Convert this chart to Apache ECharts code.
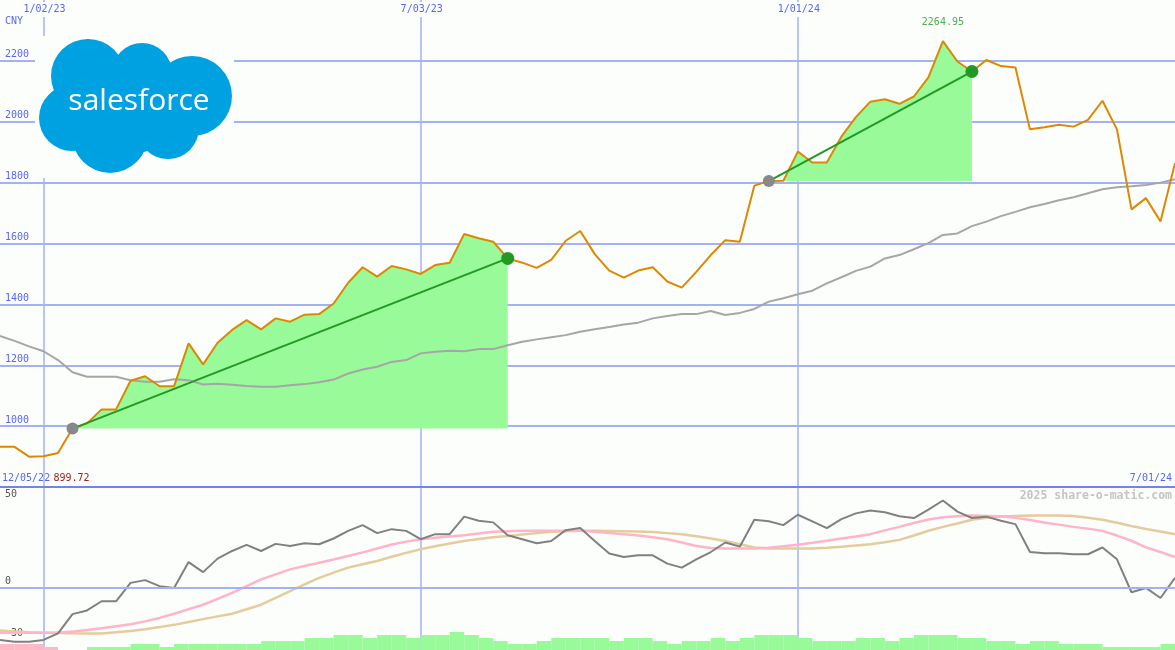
<!DOCTYPE html>
<html>
<head>
<meta charset="utf-8">
<title>Salesforce share chart</title>
<script src="https://cdn.jsdelivr.net/npm/echarts@6/dist/echarts.min.js"></script>
<style>
  html, body { margin: 0; padding: 0; background: #fcfefc; }
  #chart { width: 1175px; height: 650px; }
</style>
</head>
<body>
<div id="chart"></div>
<script>
// weekly closes (CNY), first week 12/12/22
const price = [
  932, 932, 899.72, 901, 912, 992, 1009, 1055, 1055, 1149,
  1164, 1131, 1131, 1272, 1203, 1274, 1316, 1348, 1318, 1354,
  1343, 1366, 1368, 1403, 1471, 1522, 1491, 1526, 1515, 1500,
  1529, 1537, 1631, 1617, 1606, 1551, 1537, 1520, 1546, 1609,
  1641, 1565, 1511, 1488, 1511, 1522, 1475, 1455, 1507, 1562,
  1611, 1606, 1790, 1805, 1806, 1902, 1866, 1866, 1951, 2015,
  2066, 2074, 2059, 2083, 2146, 2264.95, 2198, 2165, 2203, 2183,
  2178, 1975, 1982, 1990, 1984, 2006, 2069, 1975, 1712, 1749,
  1672, 1864
];

// long moving average (grey)
const movingAvg = [
  1296, 1280, 1262, 1246, 1217, 1177, 1162, 1162, 1162, 1151,
  1146, 1146, 1154, 1151, 1137, 1139, 1136, 1132, 1129, 1129,
  1134, 1138, 1144, 1153, 1173, 1186, 1195, 1211, 1217, 1239,
  1244, 1248, 1246, 1253, 1253, 1266, 1277, 1285, 1292, 1299,
  1310, 1318, 1326, 1334, 1340, 1354, 1362, 1368, 1368, 1378,
  1365, 1372, 1385, 1409, 1420, 1433, 1445, 1469, 1489, 1510,
  1524, 1551, 1562, 1581, 1601, 1628, 1633, 1657, 1672, 1690,
  1704, 1719, 1730, 1742, 1752, 1765, 1778, 1785, 1788, 1792,
  1800, 1811
];

// lower panel: oscillator and its two smoothings
const oscillator = [
  -30.2, -31.2, -31.2, -30.2, -26.4, -15.3, -13.2, -7.9, -7.9, 2.7,
  4.3, 0.8, -0.2, 14.7, 8.9, 16.7, 21.1, 24.6, 21.1, 25.2,
  24.0, 25.6, 25.0, 28.3, 32.7, 36.0, 31.4, 33.7, 32.7, 27.9,
  30.8, 30.8, 40.9, 38.5, 37.6, 30.2, 27.9, 25.6, 26.9, 33.1,
  34.3, 26.9, 19.6, 17.6, 18.6, 18.6, 13.8, 11.5, 16.3, 20.5,
  26.0, 23.6, 39.1, 38.2, 36.0, 42.0, 38.2, 34.3, 39.5, 42.8,
  44.4, 43.4, 41.1, 40.1, 44.9, 50.2, 43.8, 40.1, 40.9, 38.5,
  36.6, 20.5, 19.8, 19.8, 19.2, 19.2, 23.1, 16.3, -2.7, -0.2,
  -6.0, 5.6
];

const signalFast = [
  -26, -26, -26, -26, -26, -25.4, -24.5, -23.5, -22.3, -21.1,
  -19.5, -17.5, -15.1, -12.5, -9.9, -6.5, -3.1, 0.8, 4.7, 7.6,
  10.5, 12.4, 14.3, 16.2, 18.2, 20.3, 22.5, 24.8, 26.5, 27.9,
  28.7, 29.5, 30.2, 31.2, 32.2, 32.5, 32.7, 32.7, 32.7, 32.7,
  32.7, 32.2, 31.5, 30.8, 30.0, 29.0, 27.9, 26.0, 24.0, 22.8,
  22.5, 22.5, 22.5, 23.0, 23.9, 24.7, 25.8, 27.0, 28.3, 29.5,
  30.8, 33.0, 35.0, 37.2, 39.3, 40.6, 41.2, 41.5, 41.3, 41.1,
  40.2, 39.0, 37.5, 36.3, 35.0, 34.0, 32.7, 30.0, 27.0, 23.2,
  20.5, 17.6
];

const signalSlow = [
  -24.8, -25.3, -25.8, -26, -26.2, -26.4, -26.5, -26.5, -25.8, -25,
  -24, -22.8, -21.5, -19.8, -18.2, -16.6, -15.1, -12.5, -9.9, -6,
  -2.1, 1.8, 5.6, 8.6, 11.5, 13.4, 15.3, 17.8, 20.0, 22.1,
  23.8, 25.4, 26.9, 28.0, 29.0, 29.8, 30.6, 31.4, 32.2, 32.5,
  32.7, 32.7, 32.6, 32.5, 32.4, 32.0, 31.4, 30.8, 29.6, 28.3,
  26.9, 25.0, 23.1, 22.5, 22.5, 22.5, 22.6, 23.0, 23.6, 24.3,
  25.0, 26.2, 27.5, 30.0, 32.8, 35.0, 37.0, 39.1, 40.2, 41.0,
  41.3, 41.5, 41.5, 41.5, 41.3, 40.3, 39.1, 37.4, 35.5, 33.8,
  32.3, 30.8
];

// bottom histogram, one bar per week interval (negative = pink)
const histogram = [
  -2, -2, -2, -1, 0, 0, 1, 1, 1, 2,
  2, 1, 2, 2, 2, 2, 2, 2, 3, 3,
  3, 4, 4, 5, 5, 4, 5, 5, 4, 5,
  5, 6, 5, 4, 3, 2, 2, 3, 4, 4,
  4, 4, 3, 4, 4, 3, 2, 3, 3, 4,
  3, 4, 5, 5, 5, 4, 3, 3, 3, 4,
  4, 3, 4, 5, 5, 5, 4, 4, 3, 3,
  2, 3, 3, 2, 2, 2, 1, 1, 1, 1,
  2
];

// trend segments (start/end week index)
const trendFrom = [5, 53];
const trendTo = [35, 67];

const dateTicks = ['1/02/23', '7/03/23', '1/01/24'];
const priceTicks = [1000, 1200, 1400, 1600, 1800, 2000, 2200];
const oscTicks = [50, 0, -30];
const startLabel = '12/05/22';
const currency = 'CNY';
const watermark = '2025 share-o-matic.com';

// weekly categories
const weeks = [];
for (let i = 0; i < price.length; i++) {
  const d = new Date(2022, 11, 12 + i * 7);
  const dd = String(d.getDate()).padStart(2, '0');
  const yy = String(d.getFullYear() % 100).padStart(2, '0');
  weeks.push((d.getMonth() + 1) + '/' + dd + '/' + yy);
}
const gaps = histogram.map((v, i) => weeks[i]);

const BG = '#fcfefc';
const GRID = '#a4b2f4';
const BLUE = '#5a66f0';
const MONO = 'DejaVu Sans Mono';
const CLOUD = '#00a1e0';

// green fill under price between trend start and end
const fillBase = price.map(() => '-');
const fillTop = price.map(() => '-');
trendFrom.forEach((from, k) => {
  for (let i = from; i <= trendTo[k]; i++) {
    fillBase[i] = price[from];
    fillTop[i] = price[i] - price[from];
  }
});

const trendSeries = trendFrom.map((from, k) => {
  const to = trendTo[k];
  const data = price.map((v, i) => {
    if (i === from) return { value: v, symbol: 'circle', symbolSize: 12, itemStyle: { color: '#888888' } };
    if (i === to) return { value: v, symbol: 'circle', symbolSize: 13, itemStyle: { color: '#229922' } };
    return '-';
  });
  return {
    type: 'line',
    xAxisIndex: 0,
    yAxisIndex: 0,
    data: data,
    connectNulls: true,
    showSymbol: true,
    symbol: 'none',
    lineStyle: { color: '#229922', width: 2 },
    z: 6,
    silent: true
  };
});

const maxIdx = price.indexOf(Math.max(...price));
const minVal = Math.min(...price);

const isTick = (index, value) => dateTicks.includes(value);

// cloud lobes of the logo
const lobes = [
  [88, 76, 37], [142, 73, 30], [192, 96, 40],
  [72, 118, 33], [110, 135, 38], [168, 128, 31], [135, 108, 45]
];

const chart = echarts.init(document.getElementById('chart'));

chart.setOption({
  animation: false,
  backgroundColor: BG,
  grid: [
    { left: 0, right: 0, top: 0, height: 487 },
    { left: 0, right: 0, top: 487, height: 163 },
    { left: 0, right: 0, bottom: 0, height: 30 }
  ],
  xAxis: [
    {
      type: 'category',
      gridIndex: 0,
      data: weeks,
      boundaryGap: false,
      position: 'top',
      axisLine: { show: false },
      axisTick: { show: false },
      axisLabel: {
        inside: true,
        interval: isTick,
        margin: 2,
        color: BLUE,
        fontFamily: MONO,
        fontSize: 10,
        backgroundColor: BG,
        padding: [2, 2, 3, 4]
      },
      splitLine: { show: true, interval: isTick, lineStyle: { color: GRID, width: 1.5 } }
    },
    {
      type: 'category',
      gridIndex: 1,
      data: weeks,
      boundaryGap: false,
      axisLine: { show: false },
      axisTick: { show: false },
      axisLabel: { show: false },
      splitLine: { show: true, interval: isTick, lineStyle: { color: GRID, width: 1.5 } }
    },
    {
      type: 'category',
      gridIndex: 2,
      data: gaps,
      boundaryGap: true,
      show: false
    }
  ],
  yAxis: [
    {
      type: 'value',
      gridIndex: 0,
      min: 800,
      max: 2400,
      interval: 200,
      axisLine: { show: false },
      axisTick: { show: false },
      axisLabel: {
        inside: true,
        margin: 5,
        verticalAlign: 'bottom',
        padding: [0, 0, 1, 0],
        color: BLUE,
        fontFamily: MONO,
        fontSize: 10,
        formatter: v => (priceTicks.includes(v) ? String(v) : '')
      },
      splitLine: {
        show: true,
        lineStyle: {
          color: ['#7282f0', GRID, GRID, GRID, GRID, GRID, GRID, GRID, 'rgba(0,0,0,0)'],
          width: 2
        }
      }
    },
    {
      type: 'value',
      gridIndex: 1,
      min: -36,
      max: 58,
      interval: 2,
      axisLine: { show: false },
      axisTick: { show: false },
      splitLine: { show: false },
      axisLabel: {
        inside: true,
        margin: 5,
        verticalAlign: 'bottom',
        padding: [0, 0, 1, 0],
        color: '#555555',
        fontFamily: MONO,
        fontSize: 10,
        formatter: v => (oscTicks.includes(v) ? (v < 0 ? '\u2212' + Math.abs(v) : String(v)) : '')
      }
    },
    {
      type: 'value',
      gridIndex: 2,
      min: 0,
      max: 10,
      show: false
    }
  ],
  graphic: [
    // separator between panels
    { type: 'rect', shape: { x: 0, y: 486, width: 1175, height: 2 }, style: { fill: '#7282f0' }, z: 1 },
    // logo
    { type: 'rect', shape: { x: 35, y: 36, width: 199, height: 142 }, style: { fill: BG }, z: 1 },
    {
      type: 'group',
      z: 1,
      children: lobes.map(c => ({
        type: 'circle', shape: { cx: c[0], cy: c[1], r: c[2] }, style: { fill: CLOUD }, z: 1
      })).concat([{
        type: 'text',
        z: 2,
        style: {
          x: 139, y: 101, text: 'salesforce', fill: '#ffffff',
          font: '400 30px "Open Sans"', textAlign: 'center', textVerticalAlign: 'middle'
        }
      }])
    },
    {
      type: 'text', z: 3,
      style: { x: 5, y: 21, text: currency, fill: BLUE, font: '10px "DejaVu Sans Mono"', textVerticalAlign: 'middle' }
    },
    {
      type: 'text', z: 3,
      style: {
        x: 2, y: 478, textVerticalAlign: 'middle',
        text: '{d|' + startLabel + '} {r|' + minVal.toFixed(2) + '}',
        rich: {
          d: { fill: BLUE, font: '10px "DejaVu Sans Mono"' },
          r: { fill: '#a02222', font: '10px "DejaVu Sans Mono"' }
        }
      }
    },
    {
      type: 'text', z: 3,
      style: { x: 1172, y: 478, text: weeks[weeks.length - 1], fill: BLUE, font: '10px "DejaVu Sans Mono"', textAlign: 'right', textVerticalAlign: 'middle' }
    },
    {
      type: 'text', z: 3,
      style: { x: 1172, y: 496, text: watermark, fill: '#c4c4c4', font: 'bold 11.5px "DejaVu Sans Mono"', textAlign: 'right', textVerticalAlign: 'middle' }
    }
  ],
  series: [
    {
      type: 'line',
      xAxisIndex: 0,
      yAxisIndex: 0,
      data: fillBase,
      stack: 'fill',
      symbol: 'none',
      lineStyle: { opacity: 0 },
      silent: true,
      z: 2
    },
    {
      type: 'line',
      xAxisIndex: 0,
      yAxisIndex: 0,
      data: fillTop,
      stack: 'fill',
      symbol: 'none',
      lineStyle: { opacity: 0 },
      areaStyle: { color: '#98fa98', opacity: 1 },
      silent: true,
      z: 2
    },
    {
      type: 'line',
      xAxisIndex: 0,
      yAxisIndex: 0,
      data: movingAvg,
      symbol: 'none',
      lineStyle: { color: '#a6a6a6', width: 2 },
      z: 3
    },
    {
      type: 'line',
      xAxisIndex: 0,
      yAxisIndex: 0,
      data: price,
      symbol: 'none',
      lineStyle: { color: '#dd8800', width: 2 },
      z: 4
    },
    ...trendSeries,
    {
      type: 'scatter',
      xAxisIndex: 0,
      yAxisIndex: 0,
      data: [[maxIdx, price[maxIdx]]],
      symbolSize: 0,
      label: {
        show: true,
        position: 'top',
        distance: 14,
        color: '#229922',
        fontFamily: MONO,
        fontSize: 10,
        formatter: p => p.value[1].toFixed(2)
      },
      z: 7
    },
    {
      type: 'line',
      xAxisIndex: 1,
      yAxisIndex: 1,
      data: signalSlow,
      symbol: 'none',
      lineStyle: { color: '#e4cc9c', width: 2.5 },
      z: 2
    },
    {
      type: 'line',
      xAxisIndex: 1,
      yAxisIndex: 1,
      data: signalFast,
      symbol: 'none',
      lineStyle: { color: '#ffb4c8', width: 2.5 },
      z: 3
    },
    {
      type: 'line',
      xAxisIndex: 1,
      yAxisIndex: 1,
      data: oscillator,
      symbol: 'none',
      lineStyle: { color: '#808080', width: 2 },
      markLine: {
        silent: true,
        symbol: 'none',
        label: { show: false },
        lineStyle: { color: GRID, width: 2, type: 'solid' },
        data: [{ yAxis: 0 }]
      },
      z: 4
    },
    {
      type: 'bar',
      xAxisIndex: 2,
      yAxisIndex: 2,
      barWidth: '100%',
      barCategoryGap: 0,
      data: histogram.map(v => ({
        value: Math.abs(v),
        itemStyle: { color: v < 0 ? '#ffb8c8' : '#98fa98' }
      })),
      z: 1
    }
  ]
});
</script>
</body>
</html>
